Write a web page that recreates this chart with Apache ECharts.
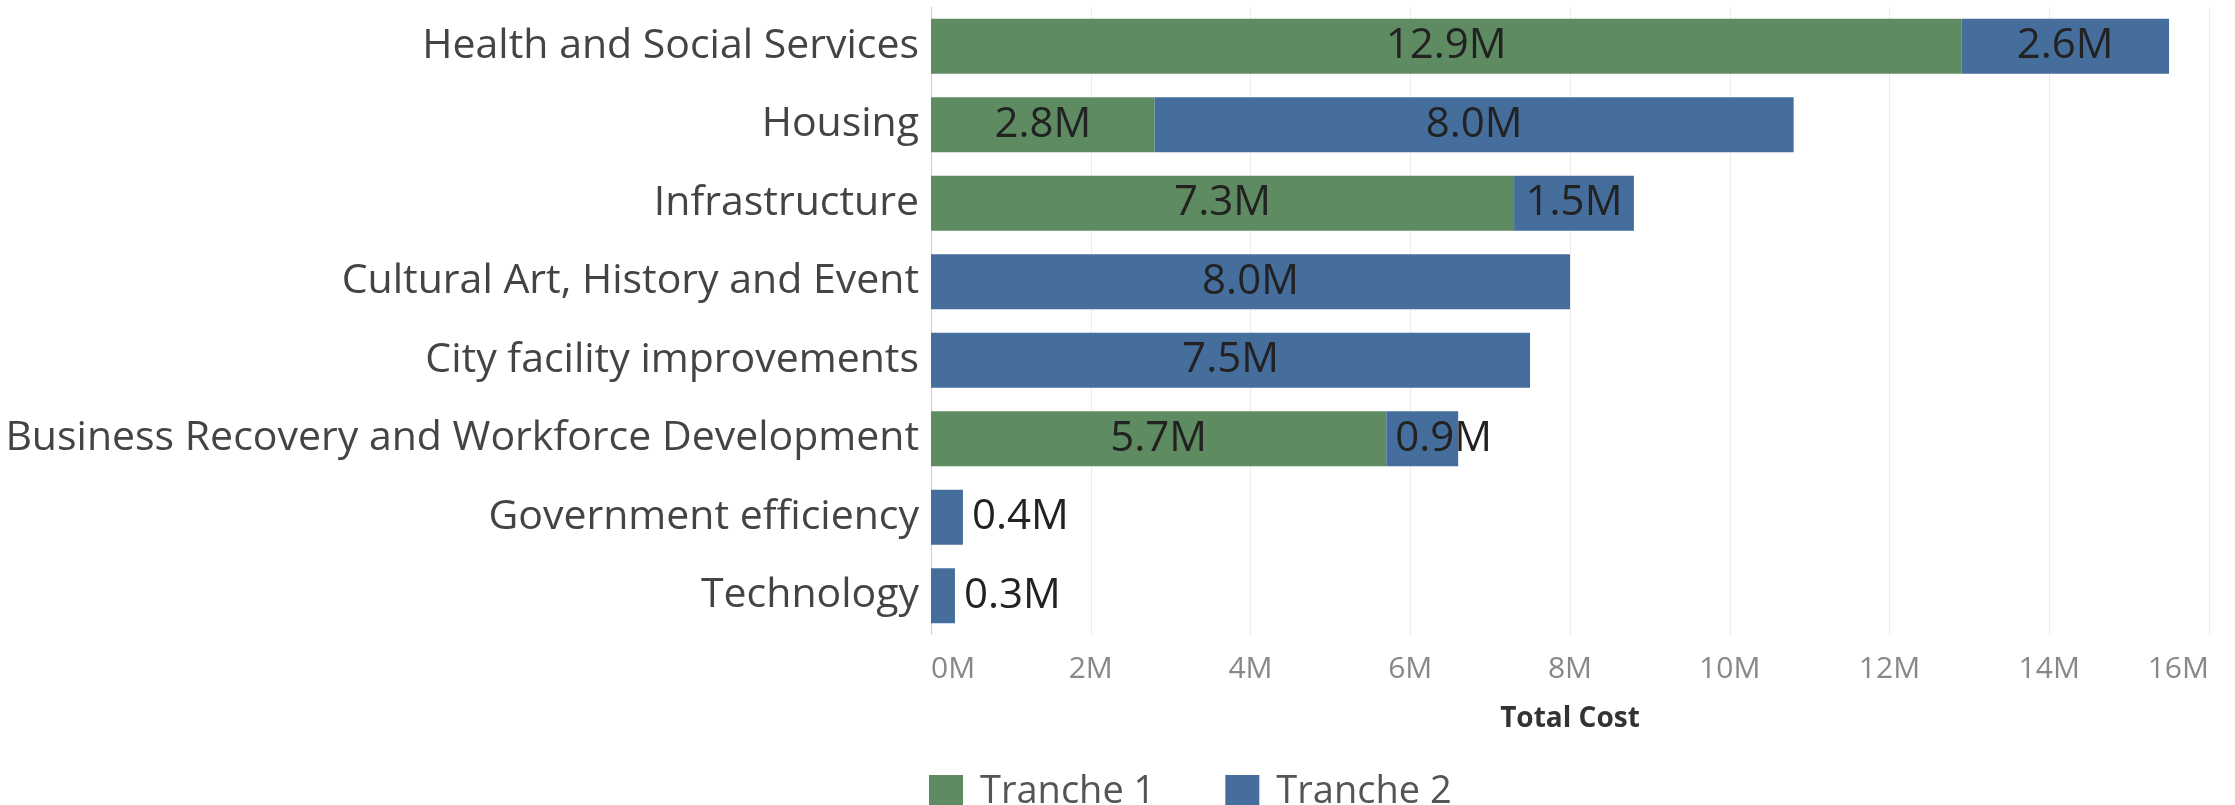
<!DOCTYPE html>
<html>
<head>
<meta charset="utf-8">
<script src="https://cdn.jsdelivr.net/npm/echarts@6/dist/echarts.min.js"></script>
<style>
html,body{margin:0;padding:0;background:#fff;}
#chart{width:2235px;height:805px;}
</style>
</head>
<body>
<div id="chart"></div>
<script>
const categories = [
  'Health and Social Services',
  'Housing',
  'Infrastructure',
  'Cultural Art, History and Event',
  'City facility improvements',
  'Business Recovery and Workforce Development',
  'Government efficiency',
  'Technology'
];
const seriesNames = ['Tranche 1', 'Tranche 2'];
const tranche1 = [12.9, 2.8, 7.3, null, null, 5.7, null, null];
const tranche2 = [2.6, 8.0, 1.5, 8.0, 7.5, 0.9, 0.4, 0.3];
const xTicks = [0, 2, 4, 6, 8, 10, 12, 14, 16];

const FONT = '"Open Sans", "DejaVu Sans", sans-serif';
const GREEN = '#5f8b62';
const BLUE = '#466e9c';

function buildData(arr) {
  return arr.map(v => {
    if (v == null) return null;
    let pos = 'inside', dist = 5;
    if (v < 0.5) { pos = 'right'; dist = 9; }
    else if (v < 1) { pos = 'insideLeft'; dist = 9; }
    return { value: v, label: { position: pos, distance: dist } };
  });
}

const labelStyle = {
  show: true,
  color: '#222',
  fontFamily: FONT,
  fontSize: 42,
  formatter: p => p.value.toFixed(1) + 'M'
};

const chart = echarts.init(document.getElementById('chart'), null, { renderer: 'canvas' });
chart.setOption({
  animation: false,
  backgroundColor: '#fff',
  grid: { left: 931, right: 26, top: 7, bottom: 170, containLabel: false },
  xAxis: {
    type: 'value',
    min: xTicks[0],
    max: xTicks[xTicks.length - 1],
    interval: xTicks[1] - xTicks[0],
    name: 'Total Cost',
    nameLocation: 'middle',
    nameGap: 70,
    nameTextStyle: { fontFamily: FONT, fontSize: 28, fontWeight: 'bold', color: '#333' },
    axisLine: { show: false },
    axisTick: { show: false },
    axisLabel: {
      fontFamily: FONT, fontSize: 30, color: '#888', margin: 19,
      alignMinLabel: 'left', alignMaxLabel: 'right',
      formatter: v => v + 'M'
    },
    splitLine: { show: true, lineStyle: { color: '#ececec', width: 1 } }
  },
  yAxis: {
    type: 'category',
    data: categories,
    inverse: true,
    axisLine: { show: true, lineStyle: { color: '#c8c8c8', type: 'dotted', width: 1 } },
    axisTick: { show: false },
    axisLabel: { fontFamily: FONT, fontSize: 41, color: '#444', margin: 12 }
  },
  legend: {
    left: 924,
    top: 768,
    itemWidth: 34,
    itemHeight: 34,
    itemGap: 70,
    icon: 'rect',
    textStyle: { fontFamily: FONT, fontSize: 38, color: '#555', padding: [0, 0, 0, 12] },
    data: seriesNames
  },
  series: [
    {
      name: seriesNames[0], type: 'bar', stack: 'total', barWidth: '70%',
      itemStyle: { color: GREEN },
      label: labelStyle,
      data: buildData(tranche1)
    },
    {
      name: seriesNames[1], type: 'bar', stack: 'total', barWidth: '70%',
      itemStyle: { color: BLUE },
      label: labelStyle,
      data: buildData(tranche2)
    }
  ]
});
</script>
</body>
</html>
